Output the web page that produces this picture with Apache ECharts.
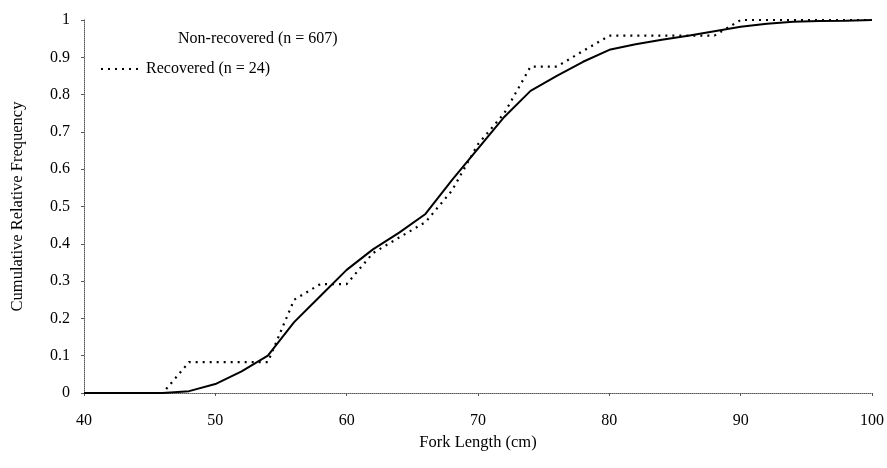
<!DOCTYPE html>
<html>
<head>
<meta charset="utf-8">
<script src="https://cdn.jsdelivr.net/npm/echarts@6/dist/echarts.min.js"></script>
<style>html,body{margin:0;padding:0;background:#fff}#c{width:887px;height:468px}</style>
</head>
<body>
<div id="c"></div>
<script>
var seriesNames = ['Non-recovered (n = 607)', 'Recovered (n = 24)'];
var nonRecX = [40,46,48,50,52,54,56,58,60,62,64,66,68,70,72,74,76,78,80,82,84,86,88,90,92,94,96,98,100];
var nonRecY = [0,0,0.005,0.024,0.058,0.10,0.19,0.26,0.33,0.385,0.43,0.48,0.57,0.655,0.74,0.81,0.85,0.888,0.92,0.935,0.947,0.958,0.97,0.982,0.99,0.995,0.997,0.998,1];
var recX = [40,46,48,50,52,54,56,58,60,62,64,66,68,70,72,74,76,78,80,82,84,86,88,90,92,94,96,98,100];
var recY = [0,0,0.083,0.083,0.083,0.083,0.25,0.292,0.292,0.375,0.417,0.458,0.542,0.667,0.75,0.875,0.875,0.917,0.958,0.958,0.958,0.958,0.958,1,1,1,1,1,1];
var xName = 'Fork Length (cm)';
var yName = 'Cumulative Relative Frequency';

function pairs(xs, ys){ return xs.map(function(x,i){ return [x, ys[i]]; }); }
var font = 'Liberation Serif';
var chart = echarts.init(document.getElementById('c'));
chart.setOption({
  animation: false,
  backgroundColor: '#fff',
  textStyle: { fontFamily: font, color: '#000' },
  grid: { left: 84, right: 15, top: 20, bottom: 75, outerBoundsMode: 'none', containLabel: false },
  legend: [
    { data: [seriesNames[0]], left: 167, top: 26, itemWidth: 0, itemHeight: 2, itemGap: 0,
      lineStyle: { opacity: 0 }, itemStyle: { opacity: 0 },
      textStyle: { fontFamily: font, fontSize: 16, color: '#000' } },
    { data: [seriesNames[1]], left: 95, top: 56, itemWidth: 40, itemHeight: 4,
      itemStyle: { opacity: 0 },
      textStyle: { fontFamily: font, fontSize: 16, color: '#000' } }
  ],
  xAxis: {
    type: 'value', min: 40, max: 100, interval: 10,
    name: xName, nameLocation: 'middle', nameGap: 39,
    nameTextStyle: { fontFamily: font, fontSize: 16.5, color: '#000' },
    axisLine: { lineStyle: { color: '#555', type: 'dotted', width: 1 } },
    axisTick: { show: true, length: 3, lineStyle: { color: '#555' } },
    axisLabel: { fontFamily: font, fontSize: 16, color: '#000', margin: 20 },
    splitLine: { show: false }
  },
  yAxis: {
    type: 'value', min: 0, max: 1, interval: 0.1,
    name: yName, nameLocation: 'middle', nameGap: 58,
    nameTextStyle: { fontFamily: font, fontSize: 16.5, color: '#000' },
    axisLine: { show: true, lineStyle: { color: '#555', type: 'dotted', width: 1 } },
    axisTick: { show: true, length: 3, lineStyle: { color: '#555' } },
    axisLabel: { fontFamily: font, fontSize: 16, color: '#000', margin: 14 },
    splitLine: { show: false }
  },
  series: [
    { name: seriesNames[1], type: 'line', data: pairs(recX, recY), showSymbol: false, symbol: 'none',
      lineStyle: { color: '#000', width: 2.2, type: [2, 5] }, itemStyle: { color: '#000' } },
    { name: seriesNames[0], type: 'line', data: pairs(nonRecX, nonRecY), showSymbol: false, symbol: 'none',
      lineStyle: { color: '#000', width: 2 }, itemStyle: { color: '#000' } }
  ]
});
</script>
</body>
</html>
